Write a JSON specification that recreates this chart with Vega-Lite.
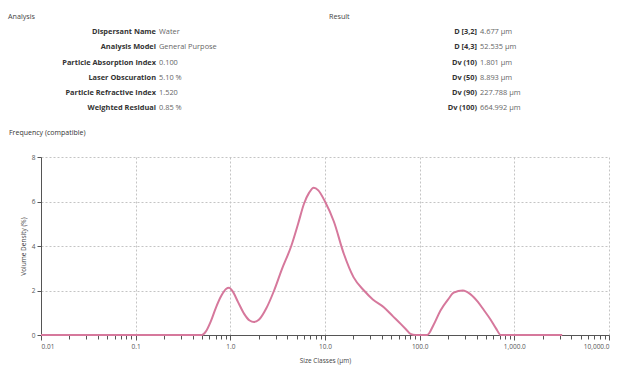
{
  "$schema": "https://vega.github.io/schema/vega-lite/v6.json",
  "padding": {"left": 8, "top": 13, "right": 5, "bottom": 2},
  "bounds": "flush",
  "spacing": 45,
  "background": "white",
  "config": {
    "font": "Open Sans",
    "view": {"stroke": null},
    "axis": {"labelFont": "Open Sans", "titleFont": "Open Sans"}
  },
  "datasets": {
    "info": [
      {"section": "Analysis", "row": 0, "label": "Analysis", "value": ""},
      {"section": "Result", "row": 0, "label": "Result", "value": ""},
      {"section": "Analysis", "row": 1, "label": "Dispersant Name", "value": "Water"},
      {"section": "Analysis", "row": 2, "label": "Analysis Model", "value": "General Purpose"},
      {"section": "Analysis", "row": 3, "label": "Particle Absorption Index", "value": "0.100"},
      {"section": "Analysis", "row": 4, "label": "Laser Obscuration", "value": "5.10 %"},
      {"section": "Analysis", "row": 5, "label": "Particle Refractive Index", "value": "1.520"},
      {"section": "Analysis", "row": 6, "label": "Weighted Residual", "value": "0.85 %"},
      {"section": "Result", "row": 1, "label": "D [3,2]", "value": "4.677 μm"},
      {"section": "Result", "row": 2, "label": "D [4,3]", "value": "52.535 μm"},
      {"section": "Result", "row": 3, "label": "Dv (10)", "value": "1.801 μm"},
      {"section": "Result", "row": 4, "label": "Dv (50)", "value": "8.893 μm"},
      {"section": "Result", "row": 5, "label": "Dv (90)", "value": "227.788 μm"},
      {"section": "Result", "row": 6, "label": "Dv (100)", "value": "664.992 μm"}
    ],
    "curve": [
      {"size": 0.01, "density": 0},
      {"size": 0.05, "density": 0},
      {"size": 0.1, "density": 0},
      {"size": 0.3, "density": 0},
      {"size": 0.5, "density": 0},
      {"size": 0.55, "density": 0.15},
      {"size": 0.62, "density": 0.6},
      {"size": 0.7, "density": 1.2},
      {"size": 0.8, "density": 1.75},
      {"size": 0.9, "density": 2.07},
      {"size": 0.97, "density": 2.12},
      {"size": 1.05, "density": 1.98},
      {"size": 1.2, "density": 1.5},
      {"size": 1.4, "density": 0.95},
      {"size": 1.6, "density": 0.65},
      {"size": 1.78, "density": 0.58},
      {"size": 2.0, "density": 0.68},
      {"size": 2.4, "density": 1.2},
      {"size": 2.9, "density": 2.0},
      {"size": 3.5, "density": 2.95},
      {"size": 4.4, "density": 4.0},
      {"size": 5.2, "density": 5.0},
      {"size": 6.0, "density": 5.9},
      {"size": 6.8, "density": 6.4},
      {"size": 7.6, "density": 6.62},
      {"size": 8.5, "density": 6.5},
      {"size": 10, "density": 6.0},
      {"size": 12.4, "density": 5.1},
      {"size": 15.8, "density": 3.65},
      {"size": 20, "density": 2.6},
      {"size": 25.8, "density": 2.0},
      {"size": 32, "density": 1.6},
      {"size": 41.8, "density": 1.25},
      {"size": 52, "density": 0.85},
      {"size": 63, "density": 0.5},
      {"size": 72, "density": 0.25},
      {"size": 80, "density": 0.05},
      {"size": 90, "density": 0},
      {"size": 120, "density": 0},
      {"size": 140, "density": 0.45},
      {"size": 166, "density": 1.1},
      {"size": 200, "density": 1.6},
      {"size": 229, "density": 1.9},
      {"size": 286, "density": 2.0},
      {"size": 340, "density": 1.85},
      {"size": 410, "density": 1.5},
      {"size": 480, "density": 1.1},
      {"size": 560, "density": 0.7},
      {"size": 640, "density": 0.3},
      {"size": 720, "density": 0},
      {"size": 1000, "density": 0},
      {"size": 3200, "density": 0}
    ]
  },
  "vconcat": [
    {
      "width": 568,
      "height": 95,
      "data": {"name": "info"},
      "encoding": {
        "x": {"field": "section", "type": "nominal", "scale": {"type": "point", "domain": ["Analysis", "Result"], "range": [117, 438], "padding": 0}, "axis": null},
        "y": {"field": "row", "type": "quantitative", "scale": {"domain": [0, 6], "range": [0, 91]}, "axis": null}
      },
      "layer": [
        {
          "transform": [{"filter": "datum.row == 0"}],
          "mark": {"type": "text", "align": "left", "baseline": "middle", "dx": -150, "fontSize": 7.2, "color": "#444"},
          "encoding": {"text": {"field": "label"}}
        },
        {
          "transform": [{"filter": "datum.row > 0"}],
          "mark": {"type": "text", "align": "right", "baseline": "middle", "dx": -2, "fontSize": 7.4, "fontWeight": "bold", "color": "#333"},
          "encoding": {"text": {"field": "label"}}
        },
        {
          "transform": [{"filter": "datum.row > 0"}],
          "mark": {"type": "text", "align": "left", "baseline": "middle", "dx": 1, "fontSize": 7.4, "color": "#666"},
          "encoding": {"text": {"field": "value"}}
        }
      ]
    },
    {
      "width": 568,
      "height": 178,
      "title": {"text": "Frequency (compatible)", "anchor": "start", "frame": "group", "dx": -32, "offset": 18, "fontSize": 7, "fontWeight": "normal", "color": "#333", "font": "Open Sans"},
      "data": {"name": "curve"},
      "mark": {"type": "line", "color": "#d6789c", "strokeWidth": 2, "interpolate": "monotone"},
      "encoding": {
        "x": {
          "field": "size", "type": "quantitative",
          "scale": {"type": "log", "domain": [0.01, 10000], "nice": false},
          "axis": {
            "title": "Size Classes (μm)",
            "titleFontSize": 6.5, "titleFontWeight": "normal", "titleColor": "#444", "titlePadding": 8,
            "values": [0.01,0.02,0.03,0.04,0.05,0.06,0.07,0.08,0.09,0.1,0.2,0.3,0.4,0.5,0.6,0.7,0.8,0.9,1,2,3,4,5,6,7,8,9,10,20,30,40,50,60,70,80,90,100,200,300,400,500,600,700,800,900,1000,2000,3000,4000,5000,6000,7000,8000,9000,10000],
            "labelExpr": "abs(log(datum.value)/LN10 - round(log(datum.value)/LN10)) < 0.001 ? (datum.value < 0.05 ? '0.01' : format(datum.value, ',.1f')) : ''",
            "labelOverlap": false,
            "labelFontSize": 6.5, "labelColor": "#555", "labelPadding": 3,
            "tickColor": "#555",
            "tickSize": {"condition": {"test": "abs(log(datum.value)/LN10 - round(log(datum.value)/LN10)) < 0.001", "value": 5}, "value": 4},
            "domainColor": "#555",
            "grid": true,
            "gridColor": "#c4c4c4",
            "gridDash": [2, 2],
            "gridOpacity": {"condition": {"test": "abs(log(datum.value)/LN10 - round(log(datum.value)/LN10)) < 0.001", "value": 1}, "value": 0}
          }
        },
        "y": {
          "field": "density", "type": "quantitative",
          "scale": {"domain": [0, 8], "nice": false},
          "axis": {
            "title": "Volume Density (%)",
            "titleFontSize": 6.5, "titleFontWeight": "normal", "titleColor": "#444", "titlePadding": 5,
            "values": [0, 2, 4, 6, 8],
            "labelFontSize": 6.5, "labelColor": "#555", "labelPadding": 2,
            "tickColor": "#555", "tickSize": 4,
            "domainColor": "#555",
            "grid": true, "gridColor": "#c4c4c4", "gridDash": [2, 2]
          }
        }
      }
    }
  ]
}
